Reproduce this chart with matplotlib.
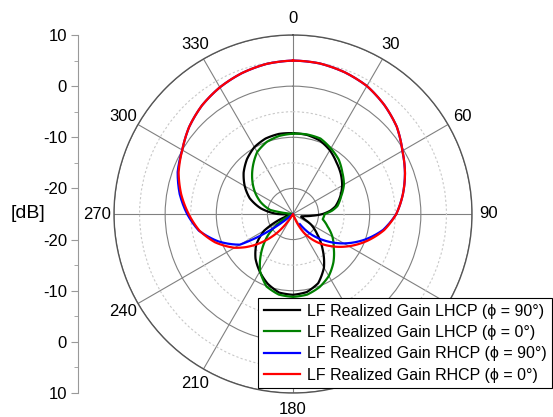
import numpy as np
import matplotlib
matplotlib.use('Agg')
import matplotlib.pyplot as plt
from matplotlib.ticker import FixedLocator

plt.rcParams['font.family'] = ['Liberation Sans', 'DejaVu Sans']

# angles in degrees (clockwise from top), gain in dB
ang_red = [0, 10, 20, 30, 40, 50, 60, 70, 80, 90, 100, 110, 120, 130, 140, 150, 155, 160,
           210, 215, 220, 225, 230, 235, 240, 250, 260, 270, 280, 290, 300, 310, 320, 330, 340, 350, 360]
rhcp_phi0 = [5.0, 4.9, 4.5, 3.9, 2.8, 1.5, -0.3, -1.7, -3.2, -4.8, -6.9, -9.6, -12.4, -15.2, -17.9, -20.8, -22.8, -25,
             -25, -23.0, -20.3, -18.0, -15.8, -13.7, -11.8, -8.8, -6.4, -4.6, -2.8, -1.2, 0.0, 1.5, 2.7, 3.6, 4.3, 4.8, 5.0]

ang_blue = [0, 10, 20, 30, 40, 50, 60, 70, 80, 90, 100, 110, 120, 130, 140, 146, 150, 225,
            230, 235, 240, 250, 260, 270, 280, 290, 300, 310, 320, 330, 340, 350, 360]
rhcp_phi90 = [5.0, 4.9, 4.5, 3.9, 2.8, 1.5, -0.3, -1.7, -3.2, -4.8, -7.1, -10.2, -13.5, -16.9, -20.2, -22.6, np.nan, np.nan,
              -25, -19.0, -13.0, -9.4, -6.3, -4.3, -2.5, -1.0, 0.0, 1.5, 2.7, 3.6, 4.3, 4.8, 5.0]

ang_black = [0, 10, 20, 30, 40, 50, 60, 70, 80, 85, 90, 95, 100, 105, 110, 115, 120, 130, 140, 150, 160, 170,
             180, 190, 200, 210, 220, 230, 240, 245, 250, 255, 265, 270, 275, 280, 290, 300, 310, 320, 330, 340, 350, 360]
lhcp_phi90 = [-9.2, -9.3, -9.7, -10.6, -11.8, -12.8, -13.9, -15.2, -16.6, -17.7, -19.2, -21.2, -22.6, -23.3, -23.3, -22.5, -21.0, -18.8, -16.0, -12.9, -10.6, -9.5,
              -9.2, -9.4, -10.5, -12.0, -13.6, -15.6, -18.5, -21.1, -23.5, -25, -25, -22.0, -20.3, -18.6, -16.0, -14.1, -12.4, -11.0, -9.9, -9.3, -9.1, -9.2]

ang_green = [0, 10, 20, 30, 40, 50, 60, 70, 80, 85, 90, 100, 110, 120, 130, 140, 150, 160, 170, 180, 190,
             200, 210, 220, 230, 240, 245, 275, 280, 290, 300, 310, 320, 330, 340, 350, 360]
lhcp_phi0 = [-9.3, -9.2, -9.3, -10.2, -11.1, -12.4, -13.5, -15.0, -16.2, -17.3, -18.8, -19.1, -17.8, -16.1, -14.6, -12.7, -11.0, -9.8, -9.0, -8.8, -9.0,
             -9.9, -12.1, -15.4, -18.7, -22.6, -25, -25, -20.5, -18.3, -16.4, -14.6, -12.8, -11.0, -10.0, -9.5, -9.3]

labels = ['LF Realized Gain LHCP (\u03d5 = 90\u00b0)',
          'LF Realized Gain LHCP (\u03d5 = 0\u00b0)',
          'LF Realized Gain RHCP (\u03d5 = 90\u00b0)',
          'LF Realized Gain RHCP (\u03d5 = 0\u00b0)']

r_min, r_max = -25, 10
W, H = 553, 417
cx, cy, R = 293, 214, 179

fig = plt.figure(figsize=(W / 100, H / 100), dpi=100)
ax = fig.add_axes([(cx - R) / W, (H - cy - R) / H, 2 * R / W, 2 * R / H], projection='polar')
ax.set_theta_zero_location('N')
ax.set_theta_direction(-1)

series = [(ang_black, lhcp_phi90, 'black'), (ang_green, lhcp_phi0, '#008000'),
          (ang_blue, rhcp_phi90, '#0000ff'), (ang_red, rhcp_phi0, '#ff0000')]
for (a, v, c), lab in zip(series, labels):
    ln, = ax.plot(np.deg2rad(a), v, color=c, lw=1.6, label=lab)
    # draw segments as arcs in polar space instead of straight chords
    ln.get_path()._interpolation_steps = 16

ax.set_rlim(r_min, r_max)
ax.set_yticks([-20, -10, 0, 10])
ax.set_yticklabels([])
ax.yaxis.set_minor_locator(FixedLocator([-15, -5, 5]))
ax.tick_params(axis='y', which='both', length=0)
ax.set_thetagrids(np.arange(0, 360, 30), labels=[str(d) for d in range(0, 360, 30)], fontsize=12)
ax.xaxis.set_minor_locator(FixedLocator(np.deg2rad(np.arange(0, 360, 5))))
ax.tick_params(axis='x', which='major', direction='in', length=5, color='#555555', pad=5)
ax.tick_params(axis='x', which='minor', direction='in', length=3, color='#555555')
ax.grid(True, which='major', color='#808080', lw=0.8, ls='-')
ax.yaxis.grid(True, which='minor', color='#c8c8c8', lw=0.8, ls=(0, (2, 2)))
ax.spines['polar'].set_color('#555555')
ax.spines['polar'].set_linewidth(1.0)

# left dB scale
ax2 = fig.add_axes([78 / W, (H - cy - R) / H, 0.0001, 2 * R / H])
ax2.patch.set_visible(False)
ax2.set_ylim(-35, 35)
for s in ['top', 'right', 'bottom']:
    ax2.spines[s].set_visible(False)
ax2.spines['left'].set_color('#999999')
ax2.set_xticks([])
ax2.set_yticks([35, 25, 15, 5, -5, -15, -25, -35])
ax2.set_yticklabels(['10', '0', '-10', '-20', '-20', '-10', '0', '10'], fontsize=12)
ax2.yaxis.set_minor_locator(FixedLocator([30, 20, 10, -10, -20, -30]))
ax2.tick_params(axis='y', which='major', length=5, color='#999999', pad=3)
ax2.tick_params(axis='y', which='minor', length=3, color='#999999')
fig.text(28 / W, 1 - cy / H, '[dB]', ha='center', va='center', fontsize=14)

leg = fig.legend(loc='upper left', bbox_to_anchor=(258 / W, 1 - 298 / H), fontsize=11.5,
                 frameon=True, fancybox=False, edgecolor='black', framealpha=1,
                 handlelength=2.3, handletextpad=0.4, labelspacing=0.4, borderpad=0.35, borderaxespad=0)
leg.get_frame().set_linewidth(0.8)

fig.savefig('out.png', dpi=100)
